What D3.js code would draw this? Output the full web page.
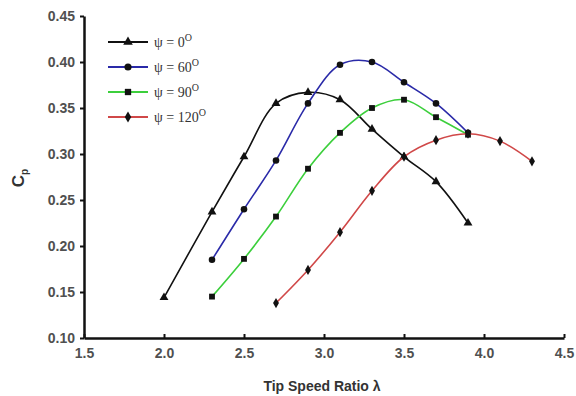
<!DOCTYPE html>
<html>
<head>
<meta charset="utf-8">
<script src="https://cdn.jsdelivr.net/npm/d3@7"></script>
<style>
  body { margin: 0; background: #fff; }
  svg { display: block; }
  .tick text { font-family: "Liberation Sans", Arial, sans-serif; font-weight: bold; font-size: 14px; fill: #505050; }
</style>
</head>
<body>
<div id="chart"></div>
<script>
// tip speed ratio values per series
const lambda0 = [2.0, 2.3, 2.5, 2.7, 2.9, 3.1, 3.3, 3.5, 3.7, 3.9];
const cp0 = [0.144, 0.237, 0.297, 0.355, 0.367, 0.359, 0.327, 0.297, 0.270, 0.225];

const lambda60 = [2.3, 2.5, 2.7, 2.9, 3.1, 3.3, 3.5, 3.7, 3.9];
const cp60 = [0.185, 0.240, 0.293, 0.355, 0.397, 0.400, 0.378, 0.355, 0.323];

const lambda90 = [2.3, 2.5, 2.7, 2.9, 3.1, 3.3, 3.5, 3.7, 3.9];
const cp90 = [0.145, 0.186, 0.232, 0.284, 0.323, 0.350, 0.359, 0.340, 0.321];

const lambda120 = [2.7, 2.9, 3.1, 3.3, 3.5, 3.7, 3.9, 4.1, 4.3];
const cp120 = [0.138, 0.174, 0.215, 0.260, 0.297, 0.315, 0.322, 0.314, 0.292];

const seriesNames = ['0', '60', '90', '120'];
const xTicks = [1.5, 2.0, 2.5, 3.0, 3.5, 4.0, 4.5];
const yTicks = [0.10, 0.15, 0.20, 0.25, 0.30, 0.35, 0.40, 0.45];

const series = [
  { name: seriesNames[0], xs: lambda0, ys: cp0, color: '#111111', symbol: d3.symbolTriangle, size: 34 },
  { name: seriesNames[1], xs: lambda60, ys: cp60, color: '#2a2aa8', symbol: d3.symbolCircle, size: 34 },
  { name: seriesNames[2], xs: lambda90, ys: cp90, color: '#3ccf3c', symbol: d3.symbolSquare, size: 34 },
  { name: seriesNames[3], xs: lambda120, ys: cp120, color: '#d04848', symbol: d3.symbolDiamond, size: 30 }
];

const width = 576, height = 396;
const margin = { top: 16, right: 12, bottom: 58, left: 84 };

const svg = d3.select('#chart').append('svg')
  .attr('width', width)
  .attr('height', height);

const x = d3.scaleLinear()
  .domain([1.5, 4.5])
  .range([margin.left, margin.left + 480]);

const y = d3.scaleLinear()
  .domain([0.10, 0.45])
  .range([338, margin.top]);

// axes
svg.append('g')
  .attr('transform', `translate(0, ${y(0.10)})`)
  .call(d3.axisBottom(x).tickValues(xTicks).tickFormat(d3.format('.1f')).tickSizeInner(-4).tickSizeOuter(0).tickPadding(10))
  .call(g => g.select('.domain').attr('stroke', '#111').attr('stroke-width', 2.5))
  .call(g => g.selectAll('.tick line').attr('stroke', '#111').attr('stroke-width', 2));

svg.append('g')
  .attr('transform', `translate(${x(1.5)}, 0)`)
  .call(d3.axisLeft(y).tickValues(yTicks).tickFormat(d3.format('.2f')).tickSizeInner(4).tickSizeOuter(0).tickPadding(5))
  .call(g => g.select('.domain').attr('stroke', '#111').attr('stroke-width', 2.5))
  .call(g => g.selectAll('.tick line').attr('stroke', '#111').attr('stroke-width', 2));

// curves
const line = d3.line()
  .x(d => x(d[0]))
  .y(d => y(d[1]))
  .curve(d3.curveCatmullRom.alpha(0.5));

series.forEach(s => {
  const pts = s.xs.map((v, i) => [v, s.ys[i]]);
  svg.append('path')
    .datum(pts)
    .attr('fill', 'none')
    .attr('stroke', s.color)
    .attr('stroke-width', 1.6)
    .attr('d', line);

  svg.append('g')
    .selectAll('path')
    .data(pts)
    .enter()
    .append('path')
    .attr('transform', d => `translate(${x(d[0])}, ${y(d[1])})`)
    .attr('d', d3.symbol().type(s.symbol).size(s.size))
    .attr('fill', '#111');
});

// legend
const legend = svg.append('g').attr('transform', 'translate(108, 42)');
series.forEach((s, i) => {
  const row = legend.append('g').attr('transform', `translate(0, ${i * 25})`);
  row.append('line')
    .attr('x1', 0).attr('x2', 40)
    .attr('stroke', s.color)
    .attr('stroke-width', 2);
  row.append('path')
    .attr('transform', 'translate(20, 0)')
    .attr('d', d3.symbol().type(s.symbol).size(s.size + 6))
    .attr('fill', '#111');
  const t = row.append('text')
    .attr('x', 46).attr('y', 5)
    .attr('font-family', '"Liberation Serif", "Times New Roman", serif')
    .attr('font-size', 14)
    .attr('fill', '#333');
  t.append('tspan').text(`ψ = ${s.name}`);
  t.append('tspan').attr('dy', -6).attr('font-size', 10).text('O');
});

// axis titles
svg.append('text')
  .attr('x', 322).attr('y', 391)
  .attr('text-anchor', 'middle')
  .attr('font-family', '"Liberation Sans", Arial, sans-serif')
  .attr('font-weight', 'bold')
  .attr('font-size', 14)
  .attr('fill', '#333')
  .text('Tip Speed Ratio λ');

const yl = svg.append('text')
  .attr('transform', 'translate(24, 178) rotate(-90)')
  .attr('text-anchor', 'middle')
  .attr('font-family', '"Liberation Sans", Arial, sans-serif')
  .attr('font-weight', 'bold')
  .attr('font-size', 17)
  .attr('fill', '#333');
yl.append('tspan').text('C');
yl.append('tspan').attr('dy', 4).attr('font-size', 10).text('p');
</script>
</body>
</html>
